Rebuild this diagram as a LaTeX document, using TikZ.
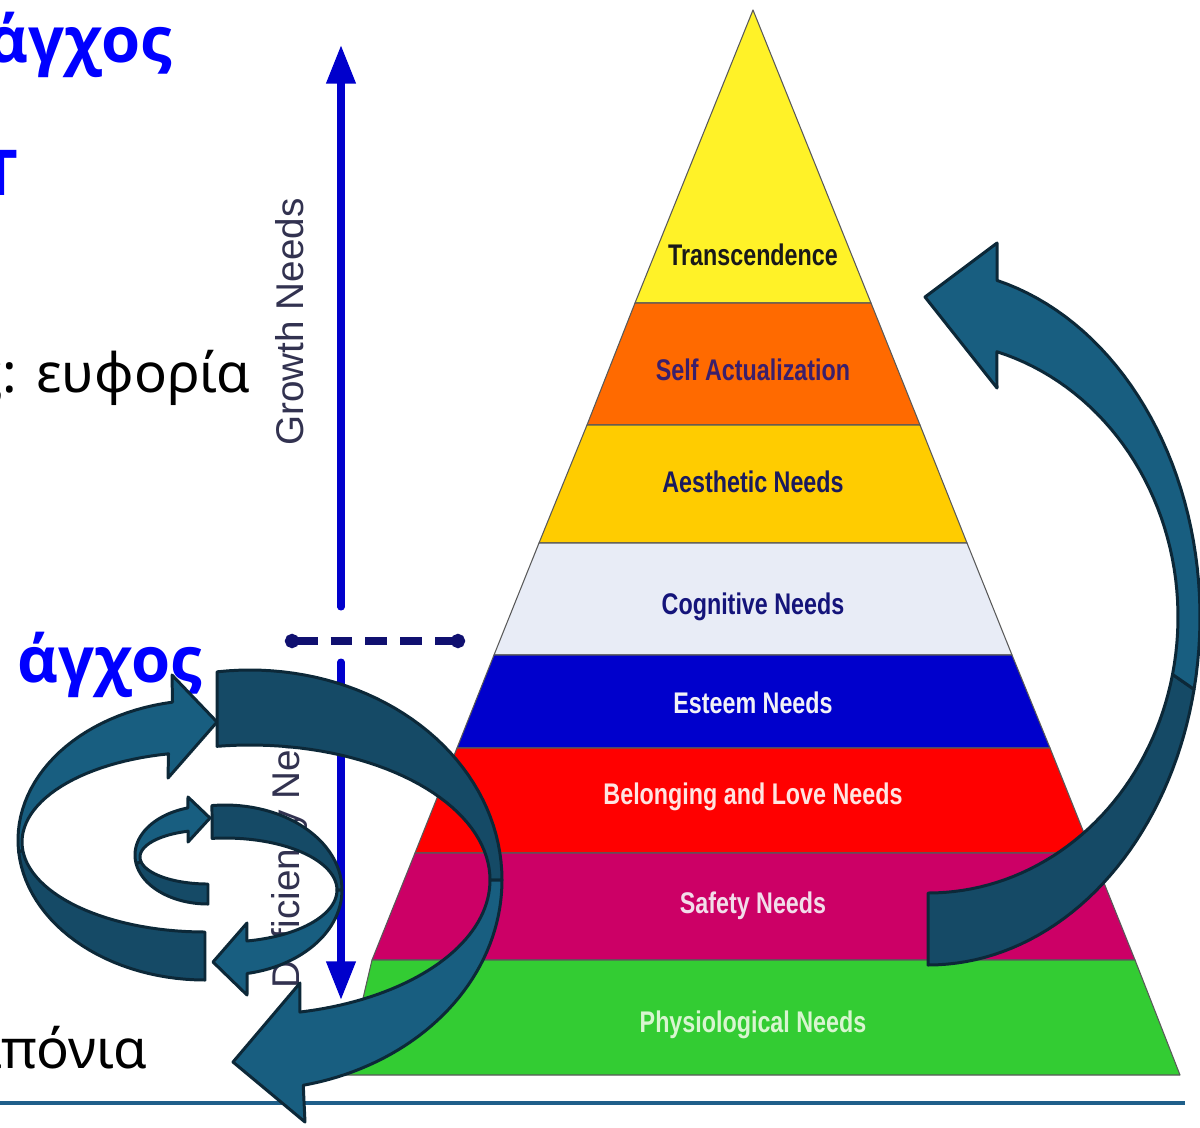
\documentclass[tikz,border=0pt]{standalone}
\usepackage{fontspec}
\usetikzlibrary{arrows.meta}
\newfontfamily\greekfont{Noto Sans}
\newfontfamily\greekbold{Open Sans}
\newfontfamily\narrowfont[FakeStretch=0.78]{Liberation Sans}
\newfontfamily\axisfont{Liberation Sans}
\definecolor{slideblue}{RGB}{0,0,255}
\definecolor{needblue}{RGB}{0,0,204}
\definecolor{dashnavy}{RGB}{16,16,112}
\definecolor{axisgray}{RGB}{50,50,80}
\definecolor{rulecol}{RGB}{31,95,138}
\definecolor{ribbonlt}{RGB}{24,94,128}
\definecolor{ribbondk}{RGB}{21,74,102}
\definecolor{ribbonln}{RGB}{12,40,56}
\definecolor{trcol}{RGB}{255,242,40}
\definecolor{sacol}{RGB}{255,106,0}
\definecolor{aecol}{RGB}{255,204,0}
\definecolor{cocol}{RGB}{232,236,246}
\definecolor{escol}{RGB}{0,0,204}
\definecolor{becol}{RGB}{255,0,0}
\definecolor{sfcol}{RGB}{204,0,102}
\definecolor{phcol}{RGB}{51,204,51}
\begin{document}
\begin{tikzpicture}[x=0.02cm,y=-0.02cm,
  band/.style={draw=black!65,line width=0.6pt,line join=round},
  lab/.style={font=\narrowfont\bfseries\fontsize{17}{20}\selectfont,inner sep=0},
  axislab/.style={font=\axisfont\fontsize{22}{26}\selectfont,text=axisgray,rotate=90,inner sep=0},
  bigword/.style={font=\greekbold\bfseries\fontsize{36}{40}\selectfont,text=slideblue,inner sep=0},
  plainword/.style={font=\greekfont\fontsize{31}{36}\selectfont,inner sep=0},
  needarrow/.style={draw=needblue,line width=4pt,line cap=round,-{Triangle[length=22pt,width=16pt]}},
  ribbonlight/.style={fill=ribbonlt,draw=ribbonln,line width=1.7pt,line join=round},
  ribbondark/.style={fill=ribbondk,draw=ribbonln,line width=1.7pt,line join=round}]
\useasboundingbox (0,0) rectangle (1200,1127);
\clip (0,0) rectangle (1200,1127);
\fill[white] (0,0) rectangle (1200,1127);

% slide text on the left
\node[bigword,anchor=base east] (w1) at (172,62) {άγχος};
\node[bigword,anchor=base] (w2) at (0,195) {Τ};
\node[plainword,anchor=base east] (w3) at (251,392) {ς: ευφορία};
\node[bigword,anchor=base east] (w4) at (202,682) {άγχος};
\node[plainword,anchor=base east] (w5) at (148,1068) {μπόνια};
\draw[rulecol,line width=2.8pt] (0,1103) -- (1185,1103);

% pyramid
\filldraw[band,fill=trcol] (753,10) -- (871,303) -- (635,303) -- cycle;
\filldraw[band,fill=sacol] (635,303) -- (871,303) -- (920,425) -- (587,425) -- cycle;
\filldraw[band,fill=aecol] (587,425) -- (920,425) -- (967,543) -- (539,543) -- cycle;
\filldraw[band,fill=cocol] (539,543) -- (967,543) -- (1012,655) -- (494,655) -- cycle;
\filldraw[band,fill=escol] (494,655) -- (1012,655) -- (1050,748) -- (457,748) -- cycle;
\filldraw[band,fill=becol] (457,748) -- (1050,748) -- (1092,853) -- (415,853) -- cycle;
\filldraw[band,fill=sfcol] (415,853) -- (1092,853) -- (1135,960) -- (372,960) -- cycle;
\filldraw[band,fill=phcol] (372,960) -- (1135,960) -- (1180,1075) -- (345,1075) -- cycle;

\node[lab,text=black!90] (tr) at (753,255) {Transcendence};
\node[lab,text={rgb,255:red,59;green,31;blue,107}] (sa) at (753,370) {Self Actualization};
\node[lab,text={rgb,255:red,26;green,26;blue,94}] (ae) at (753,482) {Aesthetic Needs};
\node[lab,text={rgb,255:red,20;green,20;blue,122}] (co) at (753,607) {Cognitive Needs};
\node[lab,text={rgb,255:red,242;green,242;blue,246}] (es) at (753,703) {Esteem Needs};
\node[lab,text={rgb,255:red,255;green,228;blue,225}] (be) at (753,797) {Belonging and Love Needs};
\node[lab,text={rgb,255:red,242;green,221;blue,234}] (sf) at (753,906) {Safety Needs};
\node[lab,text={rgb,255:red,216;green,245;blue,208}] (ph) at (753,1025) {Physiological Needs};

% growth / deficiency axis
\node[axislab] (grow) at (290,322) {Growth Needs};
\node[axislab] (defic) at (290,838) {Deficiency Needs};
\coordinate (gbot) at (341,607);
\coordinate (gtop) at (341,45);
\coordinate (dtop) at (341,662);
\coordinate (dbot) at (341,1000);
\coordinate (dl) at (285,641);
\coordinate (dr) at (465,641);
\draw[needarrow] (gbot) -- (gtop);
\draw[needarrow] (dtop) -- (dbot);
\draw[dashnavy,line width=4.2pt,dash pattern=on 12.5pt off 7.4pt,{Circle[length=8pt]}-{Circle[length=8pt]}] (dl) -- (dr);

% big arrow on the right of the pyramid
\filldraw[ribbondark] plot[domain=-12:-90,samples=40,variable=\t] ({928+272*cos(\t)},{617-348*sin(\t)})
  -- plot[domain=-90:-12,samples=40,variable=\t] ({928+250*cos(\t)},{617-276*sin(\t)}) -- cycle;
\filldraw[ribbonlight] plot[domain=75.3:-12,samples=40,variable=\t] ({928+272*cos(\t)},{617-348*sin(\t)})
  -- plot[domain=-12:74,samples=40,variable=\t] ({928+250*cos(\t)},{617-276*sin(\t)})
  -- (997,388) -- (925,297) -- (997,243) -- cycle;

% big circling pair on the left
\filldraw[ribbondark] plot[domain=185:270,samples=30,variable=\t] ({205+187*cos(\t)},{840-140*sin(\t)})
  -- plot[domain=270:185,samples=30,variable=\t] ({205+183*cos(\t)},{842-90*sin(\t)}) -- cycle;
\filldraw[ribbonlight] plot[domain=100:185,samples=30,variable=\t] ({205+187*cos(\t)},{840-140*sin(\t)})
  -- plot[domain=185:101.5,samples=30,variable=\t] ({205+183*cos(\t)},{842-90*sin(\t)})
  -- (168,778) -- (217,722) -- (172,675) -- cycle;
\filldraw[ribbondark] plot[domain=97.5:0,samples=40,variable=\t] ({250+252*cos(\t)},{880-210*sin(\t)})
  -- plot[domain=0:97.9,samples=40,variable=\t] ({250+240*cos(\t)},{880-135*sin(\t)}) -- cycle;
\filldraw[ribbonlight] plot[domain=0:-77.8,samples=40,variable=\t] ({250+252*cos(\t)},{880-210*sin(\t)})
  -- (305,1122) -- (233,1062) -- (300,983)
  -- plot[domain=-78:0,samples=40,variable=\t] ({250+240*cos(\t)},{880-135*sin(\t)}) -- cycle;

% small circling pair
\filldraw[ribbondark] plot[domain=190:270,samples=30,variable=\t] ({208+73*cos(\t)},{855-49*sin(\t)})
  -- plot[domain=270:190,samples=30,variable=\t] ({208+68*cos(\t)},{857-27*sin(\t)}) -- cycle;
\filldraw[ribbonlight] plot[domain=106:190,samples=30,variable=\t] ({208+73*cos(\t)},{855-49*sin(\t)})
  -- plot[domain=190:107,samples=30,variable=\t] ({208+68*cos(\t)},{857-27*sin(\t)})
  -- (188,842) -- (210,818) -- (188,797) -- cycle;
\filldraw[ribbondark] plot[domain=96.4:0,samples=30,variable=\t] ({225+117*cos(\t)},{890-85*sin(\t)})
  -- plot[domain=0:96.6,samples=30,variable=\t] ({225+112*cos(\t)},{890-52*sin(\t)}) -- cycle;
\filldraw[ribbonlight] plot[domain=0:-79.1,samples=30,variable=\t] ({225+117*cos(\t)},{890-85*sin(\t)})
  -- (247,995) -- (213,962) -- (247,923)
  -- plot[domain=-78.7:0,samples=30,variable=\t] ({225+112*cos(\t)},{890-52*sin(\t)}) -- cycle;
\end{tikzpicture}
\end{document}
